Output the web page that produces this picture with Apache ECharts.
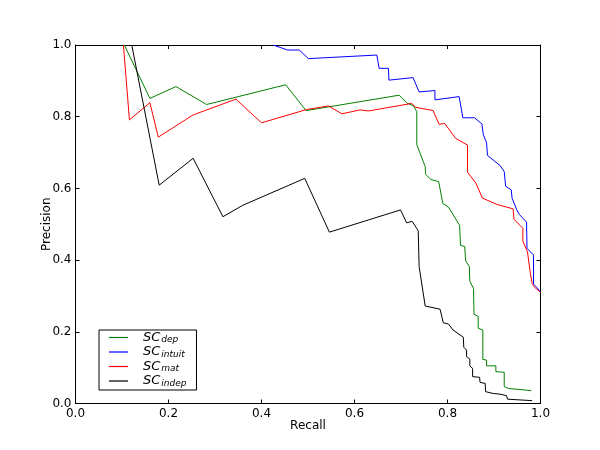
<!DOCTYPE html>
<html><head><meta charset="utf-8">
<script src="https://cdn.jsdelivr.net/npm/echarts@6/dist/echarts.min.js"></script>
<style>html,body{margin:0;padding:0;background:#fff}#c{width:600px;height:450px}</style>
</head><body><div id="c"></div>
<script>
const xTicks = [0, 0.2, 0.4, 0.6, 0.8, 1.0];
const yTicks = [0, 0.2, 0.4, 0.6, 0.8, 1.0];
const seriesNames = ['dep', 'intuit', 'mat', 'indep'];
const scDep = [[0.105,1.0],[0.160,0.851],[0.216,0.884],[0.282,0.834],[0.452,0.889],[0.496,0.817],[0.696,0.860],[0.712,0.839],[0.727,0.830],[0.734,0.814],[0.734,0.722],[0.752,0.661],[0.753,0.639],[0.764,0.625],[0.781,0.619],[0.790,0.558],[0.802,0.548],[0.826,0.497],[0.828,0.441],[0.837,0.438],[0.839,0.398],[0.847,0.382],[0.848,0.341],[0.856,0.321],[0.857,0.249],[0.866,0.243],[0.866,0.210],[0.876,0.205],[0.876,0.123],[0.884,0.121],[0.884,0.105],[0.904,0.105],[0.904,0.089],[0.922,0.087],[0.922,0.047],[0.931,0.042],[0.980,0.036]];
const scIntuit = [[0.425,1.0],[0.456,0.986],[0.481,0.986],[0.501,0.962],[0.648,0.972],[0.653,0.935],[0.673,0.935],[0.674,0.902],[0.726,0.909],[0.739,0.869],[0.773,0.873],[0.773,0.847],[0.825,0.856],[0.833,0.797],[0.858,0.797],[0.874,0.780],[0.877,0.750],[0.884,0.727],[0.886,0.692],[0.913,0.664],[0.922,0.647],[0.925,0.606],[0.937,0.596],[0.939,0.572],[0.949,0.540],[0.954,0.528],[0.970,0.506],[0.971,0.433],[0.985,0.414],[0.985,0.333],[0.992,0.324],[0.997,0.316],[1.0,0.31]];
const scMat = [[0.103,1.0],[0.116,0.791],[0.160,0.839],[0.178,0.743],[0.253,0.805],[0.345,0.849],[0.400,0.783],[0.497,0.820],[0.544,0.830],[0.573,0.808],[0.612,0.819],[0.630,0.816],[0.723,0.837],[0.732,0.826],[0.769,0.817],[0.782,0.779],[0.794,0.781],[0.818,0.739],[0.843,0.721],[0.843,0.645],[0.861,0.615],[0.875,0.573],[0.907,0.555],[0.941,0.543],[0.943,0.514],[0.962,0.489],[0.962,0.453],[0.972,0.423],[0.978,0.365],[0.982,0.335],[0.986,0.326],[0.997,0.313],[1.0,0.31]];
const scIndep = [[0.121,1.0],[0.180,0.609],[0.253,0.684],[0.317,0.521],[0.36,0.553],[0.493,0.628],[0.546,0.478],[0.630,0.512],[0.699,0.540],[0.712,0.504],[0.724,0.508],[0.737,0.482],[0.739,0.382],[0.752,0.272],[0.784,0.263],[0.791,0.225],[0.802,0.222],[0.812,0.205],[0.834,0.185],[0.835,0.157],[0.841,0.149],[0.841,0.131],[0.848,0.124],[0.848,0.105],[0.854,0.098],[0.854,0.075],[0.869,0.073],[0.870,0.059],[0.881,0.056],[0.882,0.033],[0.898,0.028],[0.913,0.026],[0.927,0.022],[0.929,0.012],[0.982,0.008]];
const colors = ['#008000', '#0000ff', '#ff0000', '#000000'];
const dataSets = [scDep, scIntuit, scMat, scIndep];

const chart = echarts.init(document.getElementById('c'), null, {renderer: 'canvas'});
const font = 'DejaVu Sans';
function axisBase(showLabel, pos, isX) {
  return {
    type: 'value', min: 0, max: 1, interval: 0.2, position: pos,
    axisLine: {show: true, onZero: false, lineStyle: {color: '#000', width: 1}},
    axisTick: {show: true, inside: true, length: 4, lineStyle: {color: '#000', width: 1}},
    splitLine: {show: false},
    axisLabel: {show: showLabel, margin: 4, fontFamily: font, fontSize: 12, color: '#000',
      formatter: v => v.toFixed(1)}
  };
}
const xMain = Object.assign(axisBase(true, 'bottom', true), {name: 'Recall', nameLocation: 'middle', nameGap: 16, nameMoveOverlap: false, nameTextStyle: {fontFamily: font, fontSize: 12, color: '#000'}});
const yMain = Object.assign(axisBase(true, 'left', false), {name: 'Precision', nameLocation: 'middle', nameGap: 23, nameMoveOverlap: false, nameTextStyle: {fontFamily: font, fontSize: 12, color: '#000'}});
const series = seriesNames.map((n, i) => ({
  name: 'SC_' + n, type: 'line', data: dataSets[i], showSymbol: false, symbol: 'none',
  lineStyle: {color: colors[i], width: 1}, itemStyle: {color: colors[i]}, animation: false,
  xAxisIndex: 0, yAxisIndex: 0
}));
chart.setOption({
  animation: false,
  grid: {left: 75.5, right: 59.5, top: 45, bottom: 46.5, containLabel: false},
  xAxis: [xMain, axisBase(false, 'top', true)],
  yAxis: [yMain, axisBase(false, 'right', false)],
  legend: {
    orient: 'vertical', left: 99, top: 330, icon: 'rect', itemWidth: 19, itemHeight: 1.2, itemGap: 1,
    borderColor: '#000', borderWidth: 1, padding: [1, 10, 2, 10], backgroundColor: '#fff',
    data: series.map(s => s.name),
    formatter: name => '{a|SC}{b|' + name.slice(3) + '}',
    textStyle: {color: '#000', rich: {
      a: {fontFamily: font, fontStyle: 'italic', fontSize: 13, lineHeight: 14, padding: [0, 1, 0, 10]},
      b: {fontFamily: font, fontStyle: 'italic', fontSize: 9, lineHeight: 14, verticalAlign: 'bottom'}
    }}
  },
  series: series
});
</script></body></html>
